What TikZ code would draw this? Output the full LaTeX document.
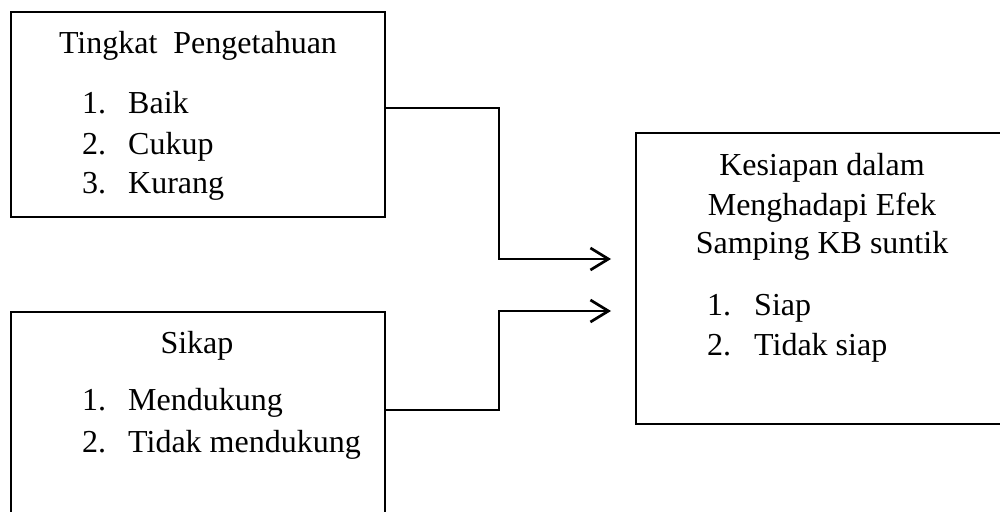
\documentclass[tikz,border=0pt]{standalone}
\usepackage{fontspec}
\setmainfont{Liberation Serif}
\usetikzlibrary{arrows.meta,calc}
\begin{document}
\begin{tikzpicture}[x=1pt,y=-1pt,
  box/.style={draw,line width=2.7pt,outer sep=0pt,inner sep=0pt,anchor=north west},
  lbl/.style={font=\fontsize{32}{38}\selectfont,inner sep=0pt,anchor=base},
  item/.style={lbl,anchor=base west},
  link/.style={line width=2.7pt,-{Straight Barb[length=18pt,width=22pt]}}]
\clip (0,0) rectangle (1000,511);

% boxes
\node[box,minimum width=374pt,minimum height=205pt] (b1) at (11,12) {};
\node[box,minimum width=374pt,minimum height=230pt] (b2) at (11,312) {};
\node[box,minimum width=380pt,minimum height=291pt] (b3) at (636,133) {};

% knowledge box
\node[lbl] (t1) at (198,54) {Tingkat\ \ Pengetahuan};
\node[item] (n11) at (82,113) {1.};
\node[item] (i11) at (128,113) {Baik};
\node[item] (n12) at (82,154) {2.};
\node[item] (i12) at (128,154) {Cukup};
\node[item] (n13) at (82,193) {3.};
\node[item] (i13) at (128,193) {Kurang};

% attitude box
\node[lbl] (t2) at (197,353) {Sikap};
\node[item] (n21) at (82,410) {1.};
\node[item] (i21) at (128,410) {Mendukung};
\node[item] (n22) at (82,452) {2.};
\node[item] (i22) at (128,452) {Tidak mendukung};

% readiness box
\node[lbl] (t3a) at (822,175) {Kesiapan dalam};
\node[lbl] (t3b) at (822,215) {Menghadapi Efek};
\node[lbl] (t3c) at (822,253) {Samping KB suntik};
\node[item] (n31) at (707,315) {1.};
\node[item] (i31) at (754,315) {Siap};
\node[item] (n32) at (707,355) {2.};
\node[item] (i32) at (754,355) {Tidak siap};

% connectors
\coordinate (s1) at ($(b1.north east)+(0,96)$);
\coordinate (s2) at ($(b2.north east)+(0,98)$);
\coordinate (e1) at ($(b3.north west)+(-25,126)$);
\coordinate (e2) at ($(b3.north west)+(-25,178)$);
\draw[link] (s1) -| (499,0 |- e1) -- (e1);
\draw[link] (s2) -| (499,0 |- e2) -- (e2);
\end{tikzpicture}
\end{document}
